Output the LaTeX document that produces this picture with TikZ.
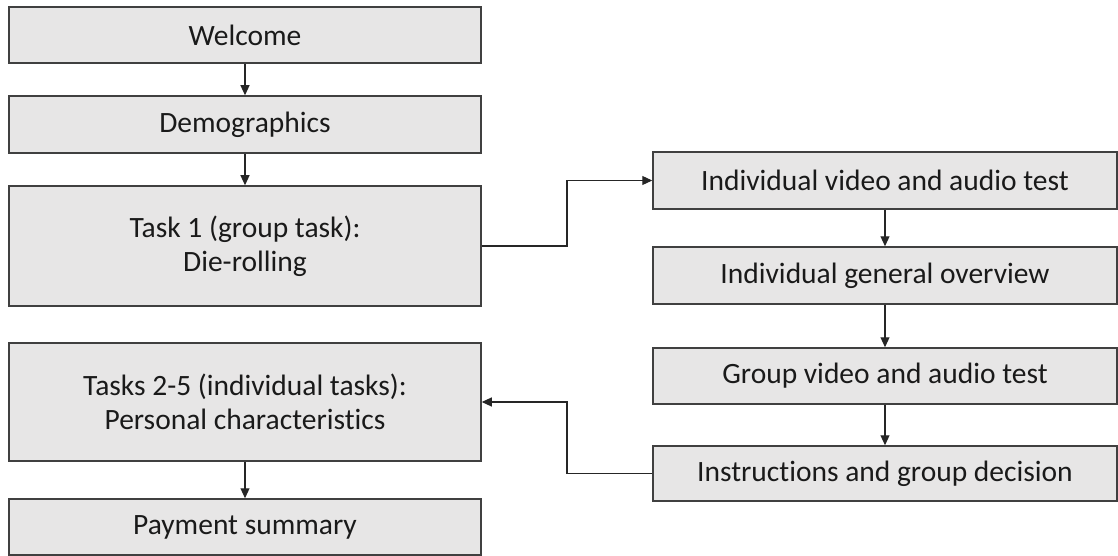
\documentclass[tikz,border=0pt]{standalone}
\usepackage{fontspec}
\setmainfont[Ligatures={NoCommon}]{Carlito}
\usetikzlibrary{arrows.meta}
\definecolor{boxfill}{HTML}{E7E6E6}
\definecolor{boxline}{HTML}{404040}
\definecolor{txt}{HTML}{1A1A1A}
\begin{document}
\begin{tikzpicture}[x=1pt,y=-1pt,
  stagebox/.style={draw=boxline,fill=boxfill,line width=1.5pt,inner sep=0pt,
    align=center,text=txt,font=\fontsize{29.5}{34}\selectfont},
  leftbox/.style={stagebox,minimum width=472pt},
  rightbox/.style={stagebox,minimum width=464pt},
  arr/.style={draw=black!85,line width=1.1pt,-{Triangle[length=10pt,width=9pt]}}]
\useasboundingbox (0,0) rectangle (1118,556);
\node[leftbox,minimum height=56pt] (wel) at (245,35) {Welcome};
\node[leftbox,minimum height=57pt] (dem) at (245,124.5) {Demographics};
\node[leftbox,minimum height=120pt] (t1) at (245,246) {Task 1 (group task):\\Die-rolling};
\node[leftbox,minimum height=118pt] (t2) at (245,402) {Tasks 2-5 (individual tasks):\\Personal characteristics};
\node[leftbox,minimum height=56pt] (pay) at (245,527) {Payment summary};
\node[rightbox,minimum height=57pt] (iv) at (885,180.5) {Individual video and audio test};
\node[rightbox,minimum height=57pt] (ig) at (885,275.5) {Individual general overview};
\node[rightbox,minimum height=56pt] (gv) at (885,376) {Group video and audio test};
\node[rightbox,minimum height=55pt] (id) at (885,473.5) {Instructions and group decision};
\coordinate (m1) at (567,246);
\coordinate (m2) at (567,473.5);
\draw[arr] (wel) -- (dem);
\draw[arr] (dem) -- (t1);
\draw[arr] (t2) -- (pay);
\draw[arr] (iv) -- (ig);
\draw[arr] (ig) -- (gv);
\draw[arr] (gv) -- (id);
\draw[arr] (t1.east) -- (m1) |- (iv.west);
\draw[arr] (id.west) -- (m2) |- (t2.east);
\end{tikzpicture}
\end{document}
